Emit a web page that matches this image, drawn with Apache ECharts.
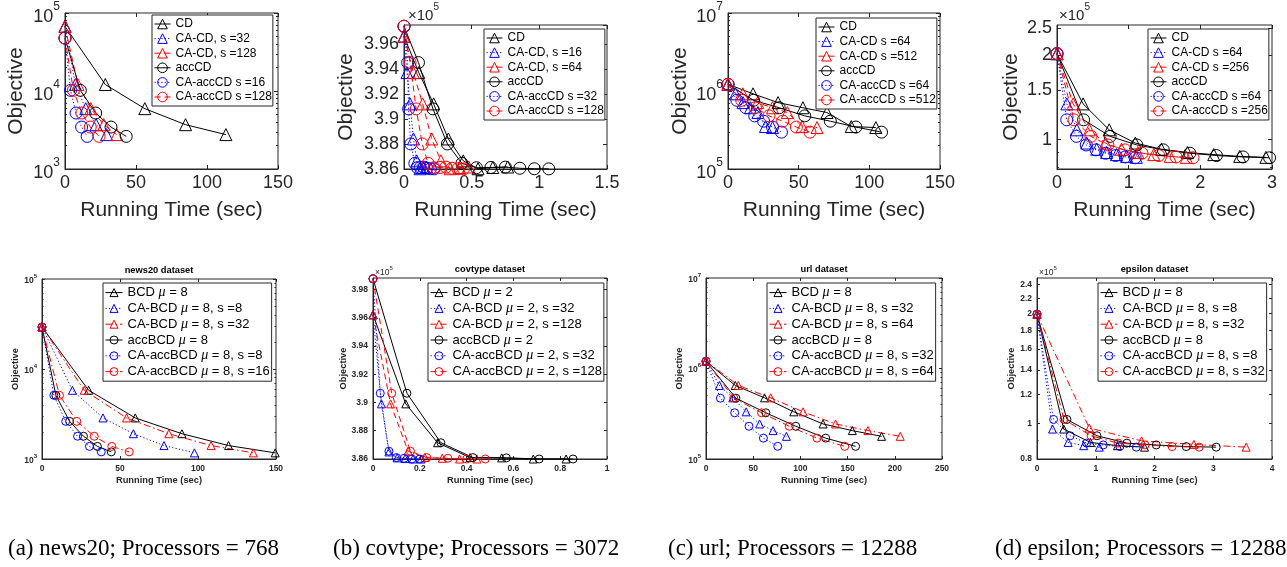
<!DOCTYPE html>
<html><head><meta charset="utf-8">
<script src="https://cdn.jsdelivr.net/npm/echarts@6/dist/echarts.min.js"></script>
<style>html,body{margin:0;padding:0;background:#fff}#c{width:1287px;height:567px}</style>
</head><body><div id="c"></div><script>
// ---------------- DATA ----------------
// (a) news20, top row (CD family)
const n20a_tCD = [0, 28.4, 56.2, 84.9, 113.3];
const n20a_tCACD32 = [0, 7.3, 14.6, 21.9, 29.3];
const n20a_tCACD128 = [0, 9.1, 18.2, 27.3, 36.4];
const n20a_yCD = [6.75e4, 1.21e4, 5.94e3, 3.7e3, 2.76e3];
const n20a_tacc = [0, 10.8, 21.6, 32.4, 43.1];
const n20a_tCAacc16 = [0, 3.9, 7.8, 11.7, 15.6];
const n20a_tCAacc128 = [0, 5.9, 11.8, 17.8, 24];
const n20a_yacc = [4.77e4, 1.02e4, 5.22e3, 3.45e3, 2.62e3];
// (b) covtype, top row (values x1e5)
const cova_tCD = [0, 0.109, 0.219, 0.328, 0.438, 0.547, 0.656, 0.766];
const cova_tCACD16 = [0, 0.022, 0.045, 0.07, 0.094, 0.118, 0.142, 0.166];
const cova_tCACD64 = [0, 0.069, 0.138, 0.205, 0.273, 0.341, 0.41, 0.478];
const cova_yCD = [3.966, 3.937, 3.912, 3.884, 3.8665, 3.8602, 3.8612, 3.8616];
const cova_tacc = [0, 0.107, 0.214, 0.321, 0.428, 0.535, 0.642, 0.749, 0.856, 0.963, 1.07];
const cova_tCAacc32 = [0, 0.027, 0.034, 0.05, 0.08, 0.1, 0.12, 0.145, 0.17, 0.195, 0.222];
const cova_tCAacc128 = [0, 0.045, 0.09, 0.135, 0.178, 0.222, 0.266, 0.31, 0.354, 0.398, 0.44];
const cova_yacc = [3.974, 3.945, 3.908, 3.88, 3.8645, 3.861, 3.8612, 3.8615, 3.8606, 3.8602, 3.8601];
// (c) url, top row
const urla_tCD = [0, 17.7, 35.4, 53, 70, 87.2, 104.6];
const urla_tCACD64 = [0, 5.3, 10.6, 15.9, 21.2, 26.5, 31.5];
const urla_tCACD512 = [0, 10.5, 21, 31.5, 42, 52.5, 63];
const urla_yCD = [1.22e6, 9.2e5, 7.1e5, 6.1e5, 5.3e5, 3.5e5, 3.4e5];
const urla_tacc = [0, 18.1, 36.2, 54.3, 72.4, 90.5, 108.6];
const urla_tCAacc64 = [0, 6.3, 12.6, 18.9, 25.2, 31.5, 37.8];
const urla_tCAacc512 = [0, 9.7, 19.4, 29, 38.7, 48.4, 58];
const urla_yacc = [1.22e6, 7.6e5, 6.1e5, 4.8e5, 4.1e5, 3.45e5, 2.97e5];
// (d) epsilon, top row (values x1e5)
const epsa_tCD = [0, 0.364, 0.728, 1.093, 1.457, 1.82, 2.187, 2.55, 2.915];
const epsa_tCACD64 = [0, 0.138, 0.277, 0.415, 0.554, 0.692, 0.83, 0.97, 1.107];
const epsa_tCACD256 = [0, 0.225, 0.45, 0.677, 0.9, 1.128, 1.35, 1.58, 1.805];
const epsa_yCD = [2.03, 1.343, 1.085, 0.973, 0.925, 0.9, 0.885, 0.872, 0.865];
const epsa_tacc = [0, 0.371, 0.742, 1.113, 1.483, 1.854, 2.225, 2.596, 2.966];
const epsa_tCAacc64 = [0, 0.136, 0.272, 0.408, 0.545, 0.68, 0.817, 0.953, 1.09];
const epsa_tCAacc256 = [0, 0.237, 0.474, 0.71, 0.95, 1.186, 1.42, 1.66, 1.898];
const epsa_yacc = [2.03, 1.178, 1.028, 0.958, 0.92, 0.895, 0.878, 0.868, 0.862];
// news20 dataset, bottom row
const n20b_tBCD = [0, 29.9, 59.8, 89.7, 119.6, 149.5];
const n20b_tCABCD8 = [0, 19.5, 39.1, 58.6, 78.2, 97.7];
const n20b_tCABCD32 = [0, 27.1, 54.2, 81.3, 108.4, 135.5];
const n20b_yBCD = [2.93e4, 5.8e3, 2.86e3, 1.91e3, 1.41e3, 1.17e3];
const n20b_tacc = [0, 8.9, 17.7, 26.6, 35.5, 44.4];
const n20b_tCAacc8 = [0, 7.6, 15.2, 22.8, 30.4, 38];
const n20b_tCAacc16 = [0, 11.2, 22.3, 33.5, 44.7, 55.9];
const n20b_yacc = [2.93e4, 5.1e3, 2.62e3, 1.79e3, 1.38e3, 1.2e3];
// covtype dataset, bottom row (values x1e5)
const covb_tBCD = [0, 0.14, 0.276, 0.415, 0.55, 0.685, 0.825];
const covb_yBCD = [3.962, 3.899, 3.8715, 3.861, 3.8608, 3.86, 3.86];
const covb_tCABCD32 = [0, 0.036, 0.068, 0.103, 0.137, 0.171, 0.205];
const covb_yCABCD32 = [3.962, 3.899, 3.865, 3.8608, 3.8603, 3.86, 3.86];
const covb_tCABCD128 = [0, 0.075, 0.15, 0.222, 0.296, 0.37, 0.444];
const covb_yCABCD128 = [3.962, 3.899, 3.8655, 3.861, 3.8605, 3.86, 3.86];
const covb_tacc = [0, 0.145, 0.29, 0.427, 0.57, 0.71, 0.855];
const covb_yacc = [3.9875, 3.9065, 3.8715, 3.861, 3.8608, 3.86, 3.86];
const covb_tCAacc32 = [0, 0.031, 0.068, 0.1, 0.133, 0.166, 0.2];
const covb_tCAacc128 = [0, 0.08, 0.16, 0.23, 0.32, 0.4, 0.48];
const covb_yCAacc = [3.9875, 3.9065, 3.8655, 3.861, 3.8605, 3.86, 3.86];
// url dataset, bottom row
const urlb_tBCD = [0, 31, 62, 93, 124, 155, 186];
const urlb_tCABCD32 = [0, 14.2, 28.4, 42.6, 56.8, 71, 85.2];
const urlb_tCABCD64 = [0, 34.3, 68.6, 102.9, 137.2, 171.5, 205.8];
const urlb_yBCD = [1.2e6, 6.5e5, 4.74e5, 3.32e5, 2.44e5, 2.06e5, 1.78e5];
const urlb_tacc = [0, 31.7, 63.4, 95.1, 126.8, 158.5];
const urlb_tCAacc32 = [0, 15.2, 30.4, 45.6, 60.8, 76];
const urlb_tCAacc64 = [0, 29.4, 58.8, 88.2, 117.6, 147];
const urlb_yacc = [1.2e6, 4.7e5, 3.24e5, 2.3e5, 1.7e5, 1.38e5];
// epsilon dataset, bottom row (values x1e5)
const epsb_tBCD = [0, 0.455, 0.91, 1.37, 1.83];
const epsb_tCABCD8 = [0, 0.265, 0.53, 0.795, 1.06];
const epsb_yBCD = [1.99, 0.966, 0.888, 0.87, 0.862];
const epsb_tCABCD32 = [0, 0.89, 1.78, 2.67, 3.56];
const epsb_yCABCD32 = [1.99, 0.972, 0.897, 0.877, 0.862];
const epsb_tacc = [0, 0.51, 1.02, 1.53, 2.03, 2.54, 3.05];
const epsb_tCAacc8 = [0, 0.282, 0.564, 0.846, 1.128, 1.41, 1.69];
const epsb_tCAacc32 = [0, 0.46, 0.92, 1.38, 1.84, 2.3, 2.76];
const epsb_yacc = [1.99, 1.026, 0.926, 0.884, 0.874, 0.865, 0.862];
// tick labels for the non-decade log axes
const epsa_yTicks = [1, 1.5, 2, 2.5];
const epsb_yTicks = [0.8, 1, 1.2, 1.4, 1.6, 1.8, 2, 2.2, 2.4];
// captions
const captions = ['(a) news20; Processors = 768', '(b) covtype; Processors = 3072',
                  '(c) url; Processors = 12288', '(d) epsilon; Processors = 12288'];

// ---------------- STYLE / LAYOUT ----------------
const AXC = '#262626';
const SANS = "'Liberation Sans', Arial, Helvetica, sans-serif";
const SERIF = "'Liberation Serif', 'Times New Roman', serif";
const COL = {k: '#000000', b: '#0000ff', r: '#ff0000'};
const DASH = {'-': 'solid', ':': [1.2, 2.2], '--': [6, 4], '-.': [7, 3, 1.5, 3]};
const ROW = {
  top: {tick: 18, sup: 12, name: 21, weight: 'normal', tickLen: 4, minorLen: 2, sym: 12, lab: 5,
        sci: 15, sciSup: 10,
        leg: {font: 12, lh: 14, itemH: 12, itemW: 16, gap: 0.6, pad: [2, 1, 2, 2]}},
  bot: {tick: 8.5, sup: 6, name: 9.3, weight: 'bold', tickLen: 3, minorLen: 1.5, sym: 8, lab: 5,
        sci: 8.5, sciSup: 6,
        leg: {font: 13, lh: 15.2, itemH: 10, itemW: 17, gap: 0.6, pad: [2, 2, 2, 2]}}
};
const L10 = Math.log10;
function zip(t, y) { return t.map((v, i) => [v, y[i]]); }

const panels = [
  {row: 'top', g: [65, 13, 213, 156], x: [150, 50], y: {kind: 'dec', min: 1e3, max: 1e5},
   xGap: 31, yGap: 38, leg: [152, 15],
   s: [['CD', n20a_tCD, n20a_yCD, 'k^-'], ['CA-CD, s =32', n20a_tCACD32, n20a_yCD, 'b^:'],
       ['CA-CD, s =128', n20a_tCACD128, n20a_yCD, 'r^--'], ['accCD', n20a_tacc, n20a_yacc, 'ko-'],
       ['CA-accCD s =16', n20a_tCAacc16, n20a_yacc, 'bo:'], ['CA-accCD s =128', n20a_tCAacc128, n20a_yacc, 'ro--']]},
  {row: 'top', g: [404, 25, 203, 144], x: [1.5, 0.5], y: {kind: 'lin', min: 3.86, max: 3.975, interval: 0.02, sci: [4, 2]},
   xGap: 31, yGap: 47, leg: [484, 29],
   s: [['CD', cova_tCD, cova_yCD, 'k^-'], ['CA-CD, s =16', cova_tCACD16, cova_yCD, 'b^:'],
       ['CA-CD, s =64', cova_tCACD64, cova_yCD, 'r^--'], ['accCD', cova_tacc, cova_yacc, 'ko-'],
       ['CA-accCD s =32', cova_tCAacc32, cova_yacc, 'bo:'], ['CA-accCD s =128', cova_tCAacc128, cova_yacc, 'ro--']]},
  {row: 'top', g: [728, 13, 212, 156], x: [150, 50], y: {kind: 'dec', min: 1e5, max: 1e7},
   xGap: 31, yGap: 37, leg: [816, 18],
   s: [['CD', urla_tCD, urla_yCD, 'k^-'], ['CA-CD s =64', urla_tCACD64, urla_yCD, 'b^:'],
       ['CA-CD s =512', urla_tCACD512, urla_yCD, 'r^--'], ['accCD', urla_tacc, urla_yacc, 'ko-'],
       ['CA-accCD s =64', urla_tCAacc64, urla_yacc, 'bo:'], ['CA-accCD s =512', urla_tCAacc512, urla_yacc, 'ro--']]},
  {row: 'top', g: [1057, 25, 215, 144], x: [3, 1], y: {kind: 'logc', min: 0.786, max: 2.57, ticks: epsa_yTicks, sci: [2, 2]},
   xGap: 31, yGap: 35, leg: [1148, 29],
   s: [['CD', epsa_tCD, epsa_yCD, 'k^-'], ['CA-CD s =64', epsa_tCACD64, epsa_yCD, 'b^:'],
       ['CA-CD s =256', epsa_tCACD256, epsa_yCD, 'r^--'], ['accCD', epsa_tacc, epsa_yacc, 'ko-'],
       ['CA-accCD s =64', epsa_tCAacc64, epsa_yacc, 'bo:'], ['CA-accCD s =256', epsa_tCAacc256, epsa_yacc, 'ro--']]},
  {row: 'bot', g: [42, 279, 234, 180], x: [150, 50], y: {kind: 'dec', min: 1e3, max: 1e5},
   title: 'news20 dataset', xGap: 17, yGap: 21, leg: [103, 283],
   s: [['BCD μ = 8', n20b_tBCD, n20b_yBCD, 'k^-'], ['CA-BCD μ = 8, s =8', n20b_tCABCD8, n20b_yBCD, 'b^:'],
       ['CA-BCD μ = 8, s =32', n20b_tCABCD32, n20b_yBCD, 'r^-.'], ['accBCD μ = 8', n20b_tacc, n20b_yacc, 'ko-'],
       ['CA-accBCD μ = 8, s =8', n20b_tCAacc8, n20b_yacc, 'bo:'], ['CA-accBCD μ = 8, s =16', n20b_tCAacc16, n20b_yacc, 'ro-.']]},
  {row: 'bot', g: [373, 278, 234, 181], x: [1, 0.2], y: {kind: 'lin', min: 3.86, max: 3.988, interval: 0.02, sci: [2, 1]},
   title: 'covtype dataset', xGap: 17, yGap: 24, leg: [428, 283],
   s: [['BCD μ = 2', covb_tBCD, covb_yBCD, 'k^-'], ['CA-BCD μ = 2, s =32', covb_tCABCD32, covb_yCABCD32, 'b^:'],
       ['CA-BCD μ = 2, s =128', covb_tCABCD128, covb_yCABCD128, 'r^--'], ['accBCD μ = 2', covb_tacc, covb_yacc, 'ko-'],
       ['CA-accBCD μ = 2, s =32', covb_tCAacc32, covb_yCAacc, 'bo:'], ['CA-accBCD μ = 2, s =128', covb_tCAacc128, covb_yCAacc, 'ro--']]},
  {row: 'bot', g: [706, 278, 236, 181], x: [250, 50], y: {kind: 'dec', min: 1e5, max: 1e7},
   title: 'url dataset', xGap: 17, yGap: 22, leg: [767, 283],
   s: [['BCD μ = 8', urlb_tBCD, urlb_yBCD, 'k^-'], ['CA-BCD μ = 8, s =32', urlb_tCABCD32, urlb_yBCD, 'b^:'],
       ['CA-BCD μ = 8, s =64', urlb_tCABCD64, urlb_yBCD, 'r^-.'], ['accBCD μ = 8', urlb_tacc, urlb_yacc, 'ko-'],
       ['CA-accBCD μ = 8, s =32', urlb_tCAacc32, urlb_yacc, 'bo:'], ['CA-accBCD μ = 8, s =64', urlb_tCAacc64, urlb_yacc, 'ro-.']]},
  {row: 'bot', g: [1037, 278, 235, 181], x: [4, 1], y: {kind: 'logc', min: 0.8, max: 2.5, ticks: epsb_yTicks, sci: [2, 1]},
   title: 'epsilon dataset', xGap: 17, yGap: 19, leg: [1098, 283],
   s: [['BCD μ = 8', epsb_tBCD, epsb_yBCD, 'k^-'], ['CA-BCD μ = 8, s =8', epsb_tCABCD8, epsb_yBCD, 'b^:'],
       ['CA-BCD μ = 8, s =32', epsb_tCABCD32, epsb_yCABCD32, 'r^-.'], ['accBCD μ = 8', epsb_tacc, epsb_yacc, 'ko-'],
       ['CA-accBCD μ = 8, s =8', epsb_tCAacc8, epsb_yacc, 'bo:'], ['CA-accBCD μ = 8, s =32', epsb_tCAacc32, epsb_yacc, 'ro-.']]}
];
const captionLeft = [8, 333, 668, 995];

// ---------------- BUILD OPTION ----------------
const grid = [], xAxis = [], yAxis = [], series = [], legend = [], title = [];
function fmtNum(v) { return String(parseFloat((+v).toFixed(3))); }
function minorTicks(min, max) {
  const out = [];
  for (let e = Math.floor(L10(min)); e <= Math.ceil(L10(max)); e++)
    for (let k = 2; k <= 9; k++) { const v = k * Math.pow(10, e); if (v > min && v < max) out.push(L10(v)); }
  return out;
}

panels.forEach((p, i) => {
  const S = ROW[p.row];
  const txt = {fontSize: S.tick, fontWeight: S.weight, color: AXC, fontFamily: SANS};
  const nameTxt = {fontSize: S.name, fontWeight: S.weight, color: AXC, fontFamily: SANS};
  grid.push({left: p.g[0], top: p.g[1], width: p.g[2], height: p.g[3], show: true,
             borderColor: AXC, borderWidth: 1, backgroundColor: 'transparent'});
  const tick = {show: true, inside: true, length: S.tickLen, lineStyle: {color: AXC, width: 1}};
  const xi = xAxis.length;
  xAxis.push({type: 'value', gridIndex: i, position: 'bottom', min: 0, max: p.x[0], interval: p.x[1],
    axisLine: {show: true, onZero: false, lineStyle: {color: AXC, width: 1}}, axisTick: tick,
    axisLabel: Object.assign({margin: S.lab, formatter: fmtNum}, txt), splitLine: {show: false},
    name: 'Running Time (sec)', nameLocation: 'middle', nameGap: p.xGap, nameTextStyle: nameTxt});
  xAxis.push({type: 'value', gridIndex: i, position: 'top', min: 0, max: p.x[0], interval: p.x[1],
    axisLine: {show: false, onZero: false}, axisTick: tick, axisLabel: {show: false}, splitLine: {show: false},
    name: p.title || '', nameLocation: 'middle', nameGap: 4,
    nameTextStyle: {fontSize: S.name, fontWeight: 'bold', color: '#000', fontFamily: SANS}});

  const Y = p.y;
  const yName = {name: 'Objective', nameLocation: 'middle', nameGap: p.yGap, nameTextStyle: nameTxt};
  const hidden = {axisLine: {show: false, onZero: false}, axisTick: {show: false}, axisLabel: {show: false}, splitLine: {show: false}};
  const sciName = Y.sci ? {
    name: '{a|×10}{s|5}', nameLocation: 'end', nameGap: Y.sci[1],
    nameTextStyle: {align: 'left', verticalAlign: 'bottom', padding: [0, 0, 0, Y.sci[0]], color: AXC,
      rich: {a: {fontSize: S.sci, fontFamily: SANS, color: AXC, fontWeight: 'normal', lineHeight: S.sci * 1.4, verticalAlign: 'bottom'},
             s: {fontSize: S.sciSup, fontFamily: SANS, color: AXC, fontWeight: 'normal', lineHeight: S.sciSup, verticalAlign: 'top'}}}
  } : {};
  const minorAxes = (mt, lo, hi) => ['left', 'right'].forEach(pos => yAxis.push(Object.assign({}, hidden, {
      type: 'value', gridIndex: i, position: pos, min: lo, max: hi,
      axisTick: {show: true, inside: true, length: S.minorLen, customValues: mt, lineStyle: {color: AXC, width: 1}}})));
  let yData;
  if (Y.kind === 'dec') {
    yData = yAxis.length;
    yAxis.push(Object.assign({type: 'log', logBase: 10, gridIndex: i, position: 'left', min: Y.min, max: Y.max,
      axisLine: {show: true, onZero: false, lineStyle: {color: AXC, width: 1}}, axisTick: tick, splitLine: {show: false},
      axisLabel: {margin: S.lab, formatter: v => '{b|10}{s|' + Math.round(L10(v)) + '}',
        rich: {b: {fontSize: S.tick, fontWeight: S.weight, color: AXC, fontFamily: SANS, lineHeight: S.tick * 1.4, verticalAlign: 'bottom'},
               s: {fontSize: S.sup, fontWeight: S.weight, color: AXC, fontFamily: SANS, lineHeight: S.sup, verticalAlign: 'top'}}}
    }, yName));
    yAxis.push({type: 'log', logBase: 10, gridIndex: i, position: 'right', min: Y.min, max: Y.max,
      axisLine: {show: false, onZero: false}, axisTick: tick, axisLabel: {show: false}, splitLine: {show: false}});
    minorAxes(minorTicks(Y.min, Y.max), L10(Y.min), L10(Y.max));
  } else if (Y.kind === 'lin') {
    yData = yAxis.length;
    yAxis.push(Object.assign({type: 'value', gridIndex: i, position: 'left', min: Y.min, max: Y.max, interval: Y.interval,
      axisLine: {show: true, onZero: false, lineStyle: {color: AXC, width: 1}}, axisTick: tick, splitLine: {show: false},
      axisLabel: Object.assign({margin: S.lab, showMaxLabel: false, formatter: fmtNum}, txt)}, yName));
    yAxis.push({type: 'value', gridIndex: i, position: 'right', min: Y.min, max: Y.max, interval: Y.interval,
      axisLine: {show: false, onZero: false}, axisTick: tick, axisLabel: {show: false}, splitLine: {show: false}});
    yAxis.push(Object.assign({}, hidden, {type: 'value', gridIndex: i, position: 'left', min: Y.min, max: Y.max}, sciName));
  } else {
    yData = yAxis.length;
    yAxis.push(Object.assign({}, hidden, {type: 'log', logBase: 10, gridIndex: i, position: 'left', min: Y.min, max: Y.max}, sciName));
    const tv = Y.ticks.map(L10);
    const mt = minorTicks(Y.min, Y.max).filter(v => !tv.some(t => Math.abs(t - v) < 1e-9));
    yAxis.push(Object.assign({type: 'value', gridIndex: i, position: 'left', min: L10(Y.min), max: L10(Y.max),
      axisLine: {show: true, onZero: false, lineStyle: {color: AXC, width: 1}}, splitLine: {show: false},
      axisTick: Object.assign({}, tick, {customValues: tv}),
      axisLabel: Object.assign({margin: S.lab, customValues: tv, formatter: v => fmtNum(Math.pow(10, v).toFixed(2))}, txt)}, yName));
    yAxis.push({type: 'value', gridIndex: i, position: 'right', min: L10(Y.min), max: L10(Y.max),
      axisLine: {show: false, onZero: false}, axisLabel: {show: false}, splitLine: {show: false},
      axisTick: Object.assign({}, tick, {customValues: tv})});
    minorAxes(mt, L10(Y.min), L10(Y.max));
  }

  const names = [];
  p.s.forEach(([nm, t, y, code]) => {
    const c = COL[code[0]], mk = code[1], dash = DASH[code.slice(2)];
    const full = nm + '#' + i;
    names.push(full);
    series.push({type: 'line', name: full, xAxisIndex: xi, yAxisIndex: yData, data: zip(t, y),
      symbol: mk === '^' ? 'triangle' : 'circle', symbolSize: S.sym, showAllSymbol: true,
      lineStyle: {color: c, width: 1, type: dash},
      itemStyle: {color: 'rgba(0,0,0,0)', borderColor: c, borderWidth: 1},
      emphasis: {disabled: true}, silent: true, animation: false});
  });
  const LG = S.leg;
  legend.push({show: true, orient: 'vertical', left: p.leg[0], top: p.leg[1], data: names,
    selectedMode: false, itemWidth: LG.itemW, itemHeight: LG.itemH, itemGap: LG.gap, padding: LG.pad,
    borderColor: AXC, borderWidth: 1, backgroundColor: '#ffffff',
    itemStyle: {borderWidth: 1}, lineStyle: {width: 1},
    formatter: n => n.split('#')[0].replace('μ', '{m|μ}'),
    textStyle: {fontSize: LG.font, color: '#000', fontFamily: SANS, lineHeight: LG.lh,
      rich: {m: {fontSize: LG.font + 1, fontStyle: 'italic', fontFamily: SERIF, color: '#000', lineHeight: LG.lh}}}});
});

captions.forEach((c, i) => title.push({text: c, left: captionLeft[i], top: 537, padding: 0,
  textStyle: {fontSize: 23, fontWeight: 'normal', color: '#000', fontFamily: SERIF}}));

const chart = echarts.init(document.getElementById('c'), null, {renderer: 'canvas', width: 1287, height: 567});
chart.setOption({animation: false, backgroundColor: '#ffffff', grid, xAxis, yAxis, series, legend, title});
</script></body></html>
